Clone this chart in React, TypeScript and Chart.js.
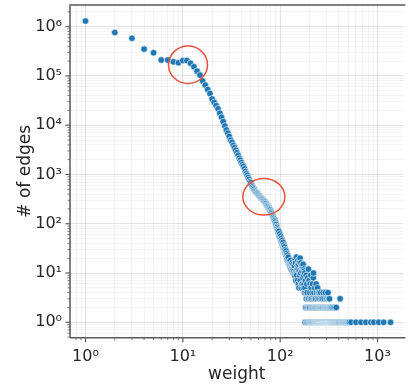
import React, { useEffect, useRef } from "react";
import { Chart, registerables } from "chart.js";

Chart.register(...registerables);

const FONT = "'DejaVu Sans', sans-serif";

// Axis labels
const X_TITLE = "weight";
const Y_TITLE = "# of edges";
const X_TICK_VALUES = [1, 10, 100, 1000];
const X_TICK_LABELS = ["10⁰", "10¹", "10²", "10³"];
const Y_TICK_VALUES = [1, 10, 100, 1000, 10000, 100000, 1000000];
const Y_TICK_LABELS = ["10⁰", "10¹", "10²", "10³", "10⁴", "10⁵", "10⁶"];
const X_DECADES = [-1, 0, 1, 2, 3];
const Y_DECADES = [-1, 0, 1, 2, 3, 4, 5, 6];

// Axis ranges
const X_MIN = 0.693;
const X_MAX = 1845;
const Y_MIN = 0.487;
const Y_MAX = 2.75e6;

// Counts for weights 1..179 (one value per consecutive weight)
const HEAD_START_WEIGHT = 1;
const headCounts = [
  1300000, 760000, 580000, 350000, 295000, 210000, 210000, 193000, 185000, 205000,
  205000, 180000, 153000, 125000, 104000, 79000, 65000, 53000, 44000, 34000,
  29000, 25000, 21500, 17500, 14500, 11800, 9600, 8000, 6900, 5900,
  5000, 4500, 3900, 3500, 3100, 2750, 2450, 2150, 1950, 1750,
  1580, 1450, 1300, 1150, 1050, 960, 870, 790, 720, 680,
  610, 560, 530, 500, 470, 450, 430, 415, 400, 385,
  370, 360, 345, 335, 325, 315, 305, 295, 285, 275,
  262, 255, 240, 232, 222, 212, 205, 196, 190, 178,
  170, 160, 150, 143, 135, 128, 120, 115, 108, 100,
  96, 88, 84, 78, 73, 64, 70, 58, 62, 52,
  56, 45, 50, 41, 46, 38, 42, 33, 37, 31,
  34, 27, 30, 24, 28, 22, 25, 19, 23, 18,
  21, 16, 17, 15, 16, 14, 18, 13, 15, 12,
  14, 16, 11, 13, 12, 15, 10, 13, 11, 14,
  9, 19, 10, 16, 7, 11, 21, 9, 12, 14,
  7, 18, 12, 6, 15, 5, 11, 17, 9, 20,
  7, 10, 16, 5, 12, 6, 14, 11, 6, 13,
  8, 15, 5, 9, 12, 6, 11, 4, 10,
];

// Counts for weights 180..329 (one value per consecutive weight)
const TAIL_START_WEIGHT = 180;
const tailCounts = [
  5, 1, 7, 2, 4, 9, 3, 1, 6, 2,
  4, 1, 8, 3, 2, 12, 1, 3, 7, 2,
  1, 4, 2, 6, 1, 3, 9, 1, 5, 2,
  3, 1, 2, 4, 1, 6, 2, 1, 3, 8,
  10, 2, 1, 4, 1, 3, 2, 5, 1, 2,
  1, 3, 1, 2, 6, 1, 4, 1, 2, 1,
  3, 1, 5, 2, 1, 1, 4, 2, 1, 3,
  1, 2, 4, 1, 1, 2, 3, 1, 2, 1,
  1, 4, 1, 2, 1, 3, 1, 1, 2, 1,
  2, 1, 1, 3, 1, 2, 1, 4, 1, 1,
  1, 2, 1, 1, 3, 1, 2, 1, 1, 2,
  1, 1, 4, 1, 2, 1, 1, 3, 1, 2,
  1, 1, 2, 1, 1, 3, 1, 2, 1, 1,
  4, 1, 1, 2, 1, 1, 3, 1, 1, 2,
  1, 3, 1, 1, 2, 1, 1, 1, 2, 1,
];

// Sparse far tail: weights that occur with a given count
const sparseOnes = [
  331, 333, 336, 338, 341, 344, 347, 350, 352, 356, 359, 362, 366, 370, 373, 379,
  381, 385, 390, 394, 398, 403, 408, 418, 423, 429, 434, 440, 447, 453, 460, 467,
  474, 482, 490, 498, 506, 515, 535, 601, 676, 759, 853, 915, 1029, 1156, 1361,
];
const sparseTwos = [335, 342, 354, 365, 377];
const sparseThrees = [413];

// Highlight circles (data coordinates of their centres)
const highlightWeights = [11.3, 68];
const highlightCounts = [168000, 353];

function buildPoints() {
  const pts: { x: number; y: number }[] = [];
  headCounts.forEach((c, i) => pts.push({ x: HEAD_START_WEIGHT + i, y: c }));
  tailCounts.forEach((c, i) => pts.push({ x: TAIL_START_WEIGHT + i, y: c }));
  const sparse: { x: number; y: number }[] = [];
  sparseOnes.forEach((w) => sparse.push({ x: w, y: 1 }));
  sparseTwos.forEach((w) => sparse.push({ x: w, y: 2 }));
  sparseThrees.forEach((w) => sparse.push({ x: w, y: 3 }));
  sparse.sort((a, b) => a.x - b.x);
  return pts.concat(sparse);
}

function logTicks(decades: number[], min: number, max: number) {
  const out: { value: number; major: boolean }[] = [];
  decades.forEach((e) => {
    for (let m = 1; m <= 9; m++) {
      const v = m * Math.pow(10, e);
      if (v >= min && v <= max) out.push({ value: v, major: m === 1 });
    }
  });
  return out;
}

function isPow10(v: number) {
  const l = Math.log10(v);
  return Math.abs(l - Math.round(l)) < 1e-9;
}

function labelFor(values: number[], labels: string[], v: number) {
  for (let i = 0; i < values.length; i++) {
    if (Math.abs(values[i] - v) / values[i] < 1e-9) return labels[i];
  }
  return "";
}

const MAJOR_GRID = "rgba(0,0,0,0.11)";
const MINOR_GRID = "rgba(0,0,0,0.045)";
const SPINE = "#5a5a5a";

const framePlugin = {
  id: "frame",
  afterDatasetsDraw(chart: any) {
    const { ctx, chartArea: a, scales } = chart;
    const xs = scales.x;
    const ys = scales.y;
    ctx.save();
    // highlight ellipses
    const rx = [19.5, 21];
    const ry = [18.7, 18.3];
    ctx.strokeStyle = "#e5533f";
    ctx.lineWidth = 1.5;
    highlightWeights.forEach((w, i) => {
      const cx = xs.getPixelForValue(w);
      const cy = ys.getPixelForValue(highlightCounts[i]);
      ctx.beginPath();
      ctx.ellipse(cx, cy, rx[i], ry[i], 0, 0, Math.PI * 2);
      ctx.stroke();
    });
    // spines
    ctx.strokeStyle = SPINE;
    ctx.lineWidth = 1.5;
    ctx.beginPath();
    ctx.moveTo(a.left, a.bottom);
    ctx.lineTo(a.left, a.top);
    ctx.lineTo(a.right + 2, a.top);
    ctx.moveTo(a.left, a.bottom);
    ctx.lineTo(a.right + 2, a.bottom);
    ctx.stroke();
    // tick marks
    xs.ticks.forEach((t: any) => {
      const px = xs.getPixelForValue(t.value);
      if (px < a.left + 0.5 || px > a.right) return;
      const major = isPow10(t.value);
      ctx.lineWidth = major ? 1.2 : 0.8;
      ctx.beginPath();
      ctx.moveTo(px, a.bottom);
      ctx.lineTo(px, a.bottom + (major ? 4.5 : 2.5));
      ctx.stroke();
    });
    ys.ticks.forEach((t: any) => {
      const py = ys.getPixelForValue(t.value);
      if (py > a.bottom - 0.5 || py < a.top + 0.5) return;
      const major = isPow10(t.value);
      ctx.lineWidth = major ? 1.2 : 0.8;
      ctx.beginPath();
      ctx.moveTo(a.left, py);
      ctx.lineTo(a.left - (major ? 4.5 : 2.5), py);
      ctx.stroke();
    });
    ctx.restore();
  },
};

export default function App() {
  const ref = useRef<HTMLCanvasElement | null>(null);
  useEffect(() => {
    document.body.style.margin = "0";
    const canvas = ref.current;
    if (!canvas) return;
    const gridColor = (ctx: any) =>
      ctx.tick && isPow10(ctx.tick.value) ? MAJOR_GRID : MINOR_GRID;
    const chart = new Chart(canvas, {
      type: "scatter",
      data: {
        datasets: [
          {
            data: buildPoints(),
            backgroundColor: "#1f77b4",
            borderColor: "#ffffff",
            borderWidth: 0.6,
            pointRadius: 3.3,
          },
        ],
      },
      options: {
        animation: false,
        responsive: false,
        devicePixelRatio: 1,
        events: [],
        layout: { padding: { top: 5, left: 0, right: 0, bottom: 0 } },
        plugins: { legend: { display: false }, tooltip: { enabled: false } },
        scales: {
          x: {
            type: "logarithmic",
            min: X_MIN,
            max: X_MAX,
            afterBuildTicks: (s: any) => {
              s.ticks = logTicks(X_DECADES, X_MIN, X_MAX);
            },
            afterFit: (s: any) => {
              s.height = 52.3;
              s.paddingLeft = 0;
              s.paddingRight = 0;
              s.paddingTop = 0;
              s.paddingBottom = 0;
            },
            grid: { color: gridColor, lineWidth: 1, drawTicks: false },
            border: { display: false },
            ticks: {
              autoSkip: false,
              maxRotation: 0,
              padding: 10,
              color: "#262626",
              font: { family: FONT, size: 16 },
              callback: (v: any) => labelFor(X_TICK_VALUES, X_TICK_LABELS, Number(v)),
            },
            title: {
              display: true,
              text: X_TITLE,
              color: "#262626",
              font: { family: FONT, size: 17 },
              padding: { top: 0, bottom: 5 },
            },
          },
          y: {
            type: "logarithmic",
            min: Y_MIN,
            max: Y_MAX,
            afterBuildTicks: (s: any) => {
              s.ticks = logTicks(Y_DECADES, Y_MIN, Y_MAX);
            },
            afterFit: (s: any) => {
              s.width = 70;
              s.paddingLeft = 0;
              s.paddingRight = 0;
              s.paddingTop = 0;
              s.paddingBottom = 0;
            },
            grid: { color: gridColor, lineWidth: 1, drawTicks: false },
            border: { display: false },
            ticks: {
              autoSkip: false,
              padding: 8,
              color: "#262626",
              font: { family: FONT, size: 16 },
              callback: (v: any) => labelFor(Y_TICK_VALUES, Y_TICK_LABELS, Number(v)),
            },
            title: {
              display: true,
              text: Y_TITLE,
              color: "#262626",
              font: { family: FONT, size: 17 },
              padding: { top: 15, bottom: 0 },
            },
          },
        },
      },
      plugins: [framePlugin],
    } as any);
    return () => chart.destroy();
  }, []);
  return (
    <div style={{ width: 408, height: 390, background: "#fff" }}>
      <canvas ref={ref} width={408} height={390} style={{ display: "block" }} />
    </div>
  );
}
